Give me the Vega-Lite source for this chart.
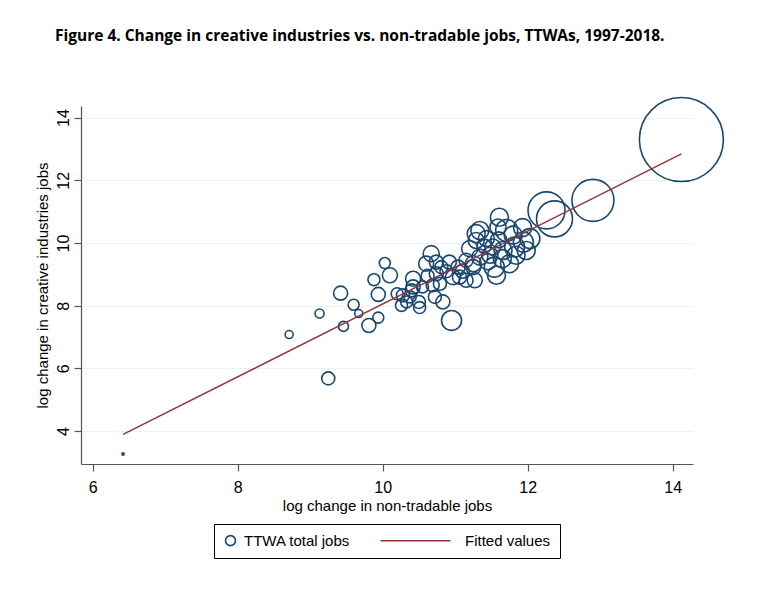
{
  "$schema": "https://vega.github.io/schema/vega-lite/v6.json",
  "width": 612,
  "height": 358,
  "autosize": "none",
  "padding": {"left": 81, "top": 106, "right": 82, "bottom": 144},
  "background": "white",
  "title": {
    "text": "Figure 4. Change in creative industries vs. non-tradable jobs, TTWAs, 1997-2018.",
    "anchor": "start",
    "frame": "group",
    "dx": -26,
    "offset": 50,
    "font": "Open Sans",
    "fontWeight": "bold",
    "fontSize": 15.5,
    "color": "#000000"
  },
  "config": {
    "view": {"stroke": null},
    "axis": {
      "domainColor": "#555555",
      "domainWidth": 1.2,
      "tickColor": "#555555",
      "tickWidth": 1.2,
      "tickSize": 7,
      "labelFont": "Liberation Sans",
      "labelFontSize": 16,
      "labelColor": "#000000",
      "titleFont": "Liberation Sans",
      "titleFontSize": 15,
      "titleFontWeight": "normal",
      "titleColor": "#000000",
      "gridColor": "#eaf2f3",
      "gridWidth": 1.2
    }
  },
  "datasets": {
    "ttwa": [
      {"nontradable": 6.42, "creative": 3.27, "jobs": 4},
      {"nontradable": 8.71, "creative": 7.08, "jobs": 51},
      {"nontradable": 9.13, "creative": 7.75, "jobs": 64},
      {"nontradable": 9.42, "creative": 8.40, "jobs": 156},
      {"nontradable": 9.60, "creative": 8.03, "jobs": 96},
      {"nontradable": 9.67, "creative": 7.75, "jobs": 51},
      {"nontradable": 9.46, "creative": 7.34, "jobs": 79},
      {"nontradable": 9.81, "creative": 7.37, "jobs": 156},
      {"nontradable": 9.94, "creative": 7.62, "jobs": 96},
      {"nontradable": 9.88, "creative": 8.83, "jobs": 114},
      {"nontradable": 9.94, "creative": 8.36, "jobs": 156},
      {"nontradable": 10.03, "creative": 9.36, "jobs": 96},
      {"nontradable": 10.10, "creative": 8.97, "jobs": 179},
      {"nontradable": 9.25, "creative": 5.68, "jobs": 134},
      {"nontradable": 10.20, "creative": 8.38, "jobs": 114},
      {"nontradable": 10.28, "creative": 8.33, "jobs": 134},
      {"nontradable": 10.26, "creative": 8.01, "jobs": 114},
      {"nontradable": 10.33, "creative": 8.12, "jobs": 114},
      {"nontradable": 10.38, "creative": 8.28, "jobs": 114},
      {"nontradable": 10.42, "creative": 8.60, "jobs": 156},
      {"nontradable": 10.50, "creative": 8.12, "jobs": 134},
      {"nontradable": 10.51, "creative": 7.94, "jobs": 114},
      {"nontradable": 10.69, "creative": 8.65, "jobs": 134},
      {"nontradable": 10.67, "creative": 9.66, "jobs": 203},
      {"nontradable": 10.81, "creative": 9.23, "jobs": 134},
      {"nontradable": 10.83, "creative": 8.12, "jobs": 156},
      {"nontradable": 10.95, "creative": 7.53, "jobs": 317},
      {"nontradable": 10.74, "creative": 9.39, "jobs": 156},
      {"nontradable": 10.92, "creative": 9.39, "jobs": 156},
      {"nontradable": 11.04, "creative": 9.23, "jobs": 156},
      {"nontradable": 10.97, "creative": 8.91, "jobs": 179},
      {"nontradable": 11.06, "creative": 8.91, "jobs": 156},
      {"nontradable": 11.20, "creative": 9.82, "jobs": 203},
      {"nontradable": 11.25, "creative": 9.34, "jobs": 203},
      {"nontradable": 11.27, "creative": 8.81, "jobs": 179},
      {"nontradable": 11.29, "creative": 10.30, "jobs": 257},
      {"nontradable": 10.42, "creative": 8.86, "jobs": 179},
      {"nontradable": 10.40, "creative": 8.49, "jobs": 134},
      {"nontradable": 10.60, "creative": 9.34, "jobs": 179},
      {"nontradable": 10.74, "creative": 9.02, "jobs": 156},
      {"nontradable": 10.79, "creative": 8.70, "jobs": 134},
      {"nontradable": 10.72, "creative": 8.28, "jobs": 134},
      {"nontradable": 12.26, "creative": 11.04, "jobs": 1087},
      {"nontradable": 12.37, "creative": 10.77, "jobs": 1029},
      {"nontradable": 12.90, "creative": 11.36, "jobs": 1400},
      {"nontradable": 14.12, "creative": 13.30, "jobs": 5600},
      {"nontradable": 11.61, "creative": 10.82, "jobs": 257},
      {"nontradable": 11.59, "creative": 10.51, "jobs": 203},
      {"nontradable": 11.71, "creative": 10.40, "jobs": 384},
      {"nontradable": 11.34, "creative": 10.40, "jobs": 257},
      {"nontradable": 11.43, "creative": 10.14, "jobs": 203},
      {"nontradable": 11.29, "creative": 10.08, "jobs": 203},
      {"nontradable": 11.94, "creative": 10.03, "jobs": 317},
      {"nontradable": 11.98, "creative": 9.76, "jobs": 257},
      {"nontradable": 11.82, "creative": 9.87, "jobs": 317},
      {"nontradable": 11.84, "creative": 9.61, "jobs": 257},
      {"nontradable": 11.54, "creative": 9.23, "jobs": 317},
      {"nontradable": 11.57, "creative": 8.97, "jobs": 257},
      {"nontradable": 11.34, "creative": 9.55, "jobs": 203},
      {"nontradable": 11.25, "creative": 9.23, "jobs": 179},
      {"nontradable": 11.48, "creative": 9.61, "jobs": 203},
      {"nontradable": 11.75, "creative": 9.34, "jobs": 257},
      {"nontradable": 11.66, "creative": 9.76, "jobs": 257},
      {"nontradable": 11.52, "creative": 9.87, "jobs": 203},
      {"nontradable": 11.15, "creative": 9.45, "jobs": 156},
      {"nontradable": 11.15, "creative": 8.81, "jobs": 156},
      {"nontradable": 12.03, "creative": 10.14, "jobs": 317},
      {"nontradable": 11.93, "creative": 10.49, "jobs": 257},
      {"nontradable": 11.40, "creative": 9.90, "jobs": 156},
      {"nontradable": 11.10, "creative": 9.10, "jobs": 156},
      {"nontradable": 10.88, "creative": 9.10, "jobs": 134},
      {"nontradable": 11.80, "creative": 10.25, "jobs": 257},
      {"nontradable": 11.60, "creative": 10.10, "jobs": 203},
      {"nontradable": 11.45, "creative": 9.40, "jobs": 203},
      {"nontradable": 11.65, "creative": 9.50, "jobs": 257},
      {"nontradable": 10.55, "creative": 8.60, "jobs": 114},
      {"nontradable": 10.62, "creative": 8.95, "jobs": 134}
    ],
    "fit": [
      {"nontradable": 6.42, "fitted": 3.895},
      {"nontradable": 14.12, "fitted": 12.84}
    ]
  },
  "layer": [
    {
      "data": {"name": "ttwa"},
      "mark": {"type": "point", "shape": "circle", "filled": false, "strokeWidth": 1.6, "opacity": 1},
      "encoding": {
        "x": {
          "field": "nontradable", "type": "quantitative",
          "scale": {"domain": [5.84, 14.28], "nice": false, "zero": false},
          "axis": {"values": [6, 8, 10, 12, 14], "format": "d", "grid": false, "title": "log change in non-tradable jobs", "labelPadding": 8, "titlePadding": 3}
        },
        "y": {
          "field": "creative", "type": "quantitative",
          "scale": {"domain": [2.95, 14.37], "nice": false, "zero": false},
          "axis": {"values": [4, 6, 8, 10, 12, 14], "format": "d", "grid": true, "labelAngle": -90, "labelAlign": "center", "labelBaseline": "alphabetic", "labelPadding": 6, "title": "log change in creative industries jobs", "titlePadding": 5}
        },
        "size": {"field": "jobs", "type": "quantitative", "scale": {"domain": [0, 5600], "range": [0, 7056], "zero": true}, "legend": null},
        "color": {
          "datum": "TTWA total jobs",
          "type": "nominal",
          "scale": {"domain": ["TTWA total jobs", "Fitted values"], "range": ["#1a476f", "#90353b"]},
          "legend": {
            "title": null,
            "orient": "none",
            "legendX": 133,
            "legendY": 418,
            "direction": "horizontal",
            "strokeColor": "#000000",
            "padding": 9,
            "columnPadding": 26,
            "labelFont": "Liberation Sans",
            "labelFontSize": 15,
            "labelColor": "#000000",
            "labelOffset": 6,
            "symbolSize": 100,
            "symbolStrokeWidth": 1.6,
            "symbolFillColor": "transparent",
            "encoding": {
              "symbols": {"shape": {"value": {"expr": "datum.value === 'Fitted values' ? 'M-1,0H13' : 'circle'"}}},
              "labels": {"dx": {"value": {"expr": "datum.value === 'Fitted values' ? 66 : 0"}}}
            }
          }
        }
      }
    },
    {
      "data": {"name": "fit"},
      "mark": {"type": "line", "strokeWidth": 1.4},
      "encoding": {
        "x": {"field": "nontradable", "type": "quantitative"},
        "y": {"field": "fitted", "type": "quantitative"},
        "color": {"datum": "Fitted values", "type": "nominal"}
      }
    }
  ]
}
